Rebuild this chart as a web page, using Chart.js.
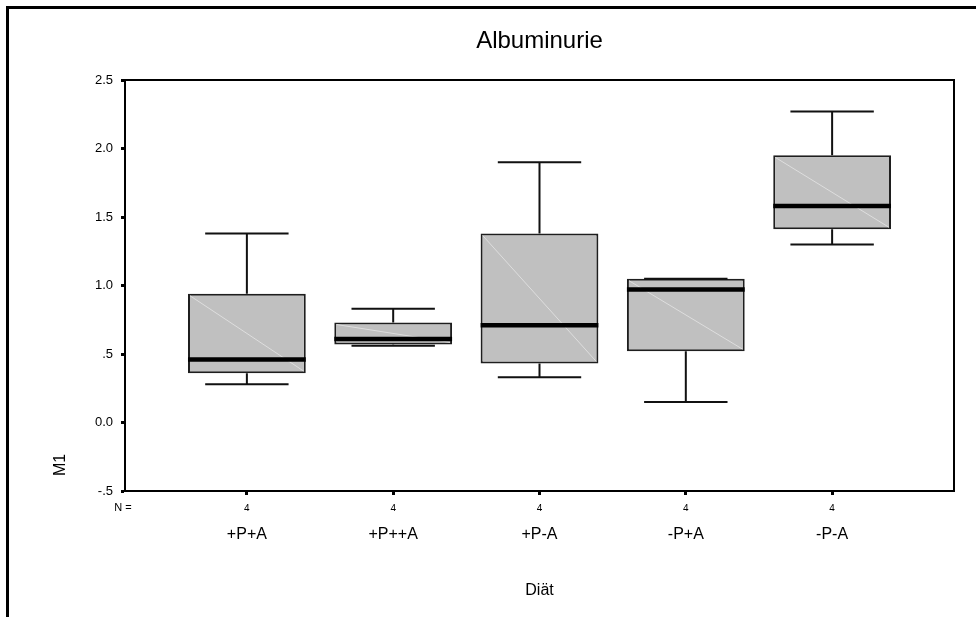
<!DOCTYPE html>
<html>
<head>
<meta charset="utf-8">
<title>Albuminurie</title>
<script src="https://cdn.jsdelivr.net/npm/chart.js@4.4.1/dist/chart.umd.min.js"></script>
<style>
  body { margin: 0; background: #fff; }
  canvas { display: block; }
</style>
</head>
<body>
<canvas id="chart" width="976" height="617"></canvas>
<script>
// box plot values
const categories = ['+P+A', '+P++A', '+P-A', '-P+A', '-P-A'];
const nCounts = [4, 4, 4, 4, 4];
const whiskerLow = [0.28, 0.56, 0.33, 0.15, 1.30];
const quartile1 = [0.36, 0.57, 0.43, 0.52, 1.41];
const medians = [0.46, 0.61, 0.71, 0.97, 1.58];
const quartile3 = [0.94, 0.73, 1.38, 1.05, 1.95];
const whiskerHigh = [1.38, 0.83, 1.90, 1.05, 2.27];
const yTicks = [-0.5, 0, 0.5, 1, 1.5, 2, 2.5];

const FONT = "'Liberation Sans', Arial, sans-serif";
const capHalf = 0.285; // half width of the whisker caps, in category units

// SPSS style: ".5", "-.5", "0.0"
function spssLabel(v) {
    if (v === 0) return '0.0';
    return v.toFixed(1).replace(/^(-?)0\./, '$1.');
}

const boxPlotExtras = {
    id: 'boxPlotExtras',
    beforeDraw(chart) {
        const ctx = chart.ctx;
        ctx.save();
        ctx.fillStyle = '#fff';
        ctx.fillRect(0, 0, chart.width, chart.height);
        // outer frame, only top and left are visible
        ctx.strokeStyle = '#000';
        ctx.lineWidth = 3;
        ctx.beginPath();
        ctx.moveTo(7.5, chart.height);
        ctx.lineTo(7.5, 7.5);
        ctx.lineTo(chart.width, 7.5);
        ctx.stroke();
        ctx.restore();
    },
    afterDatasetsDraw(chart) {
        const ctx = chart.ctx;
        const xs = chart.scales.x;
        const ys = chart.scales.y;
        const meta = chart.getDatasetMeta(0);
        ctx.save();
        meta.data.forEach((bar, i) => {
            const { x: cx, width } = bar.getProps(['x', 'width'], true);
            const left = cx - width / 2;
            const right = cx + width / 2;
            const top = ys.getPixelForValue(quartile3[i]);
            const bottom = ys.getPixelForValue(quartile1[i]);

            // faint diagonal inside the box
            ctx.strokeStyle = '#dedede';
            ctx.lineWidth = 1;
            ctx.beginPath();
            ctx.moveTo(left + 2, top + 2);
            ctx.lineTo(right - 2, bottom - 2);
            ctx.stroke();

            // whiskers
            const capL = xs.getPixelForValue(i + 1 - capHalf);
            const capR = xs.getPixelForValue(i + 1 + capHalf);
            const hi = ys.getPixelForValue(whiskerHigh[i]);
            const lo = ys.getPixelForValue(whiskerLow[i]);
            ctx.strokeStyle = '#111';
            ctx.lineWidth = 2;
            ctx.beginPath();
            ctx.moveTo(cx, top);
            ctx.lineTo(cx, hi);
            ctx.moveTo(capL, hi);
            ctx.lineTo(capR, hi);
            ctx.moveTo(cx, bottom);
            ctx.lineTo(cx, lo);
            ctx.moveTo(capL, lo);
            ctx.lineTo(capR, lo);
            ctx.stroke();

            // median
            const med = ys.getPixelForValue(medians[i]);
            ctx.strokeStyle = '#000';
            ctx.lineWidth = 4.5;
            ctx.beginPath();
            ctx.moveTo(left, med);
            ctx.lineTo(right, med);
            ctx.stroke();
        });
        ctx.restore();
    },
    afterDraw(chart) {
        const ctx = chart.ctx;
        const a = chart.chartArea;
        ctx.save();
        ctx.strokeStyle = '#000';
        ctx.lineWidth = 2;
        ctx.strokeRect(a.left, a.top, a.right - a.left, a.bottom - a.top);
        ctx.fillStyle = '#000';
        ctx.font = '11px ' + FONT;
        ctx.textAlign = 'center';
        ctx.textBaseline = 'middle';
        ctx.fillText('N =', a.left - 2, a.bottom + 17);
        // y axis title, low on the axis like SPSS puts it
        ctx.font = '16px ' + FONT;
        ctx.translate(61, 465);
        ctx.rotate(-Math.PI / 2);
        ctx.fillText('M1', 0, 0);
        ctx.restore();
    }
};

new Chart(document.getElementById('chart'), {
    type: 'bar',
    data: {
        datasets: [{
            data: categories.map((c, i) => ({ x: i + 1, y: [quartile1[i], quartile3[i]] })),
            backgroundColor: '#c0c0c0',
            borderColor: '#1e1e1e',
            borderWidth: 2,
            borderSkipped: false,
            barPercentage: 1,
            categoryPercentage: 0.805,
            xAxisID: 'x',
            yAxisID: 'y'
        }]
    },
    options: {
        responsive: false,
        animation: false,
        devicePixelRatio: 1,
        layout: { padding: { top: 10, left: 40, right: 22, bottom: 8 } },
        plugins: {
            legend: { display: false },
            tooltip: { enabled: false },
            title: {
                display: true,
                text: 'Albuminurie',
                fullSize: false,
                color: '#000',
                font: { family: FONT, size: 24, weight: 'normal' },
                padding: { top: 17, bottom: 24.2 }
            }
        },
        scales: {
            y: {
                type: 'linear',
                min: -0.5,
                max: 2.5,
                afterBuildTicks: (scale) => { scale.ticks = yTicks.map(v => ({ value: v })); },
                afterFit: (scale) => { scale.width = 85; },
                ticks: {
                    color: '#000',
                    padding: 8,
                    font: { family: FONT, size: 13 },
                    callback: (v) => spssLabel(v)
                },
                grid: { drawOnChartArea: false, tickLength: 4, tickWidth: 3, tickColor: '#000' },
                border: { display: true, color: '#000', width: 2 }
            },
            x: {
                type: 'linear',
                position: 'bottom',
                weight: 0,
                offset: false,
                min: 0.167,
                max: 5.833,
                afterBuildTicks: (scale) => { scale.ticks = categories.map((c, i) => ({ value: i + 1 })); },
                afterFit: (scale) => { scale.height = 20; },
                ticks: {
                    color: '#000',
                    padding: 8,
                    autoSkip: false,
                    maxRotation: 0,
                    font: { family: FONT, size: 10 },
                    callback: (v, i) => String(nCounts[i])
                },
                grid: { offset: false, drawOnChartArea: false, tickLength: 4, tickWidth: 3, tickColor: '#000' },
                border: { display: true, color: '#000', width: 2 }
            },
            x2: {
                type: 'linear',
                position: 'bottom',
                weight: 1,
                offset: false,
                min: 0.167,
                max: 5.833,
                afterBuildTicks: (scale) => { scale.ticks = categories.map((c, i) => ({ value: i + 1 })); },
                afterFit: (scale) => { scale.height = 98; },
                ticks: {
                    color: '#000',
                    padding: 6,
                    autoSkip: false,
                    maxRotation: 0,
                    font: { family: FONT, size: 16 },
                    callback: (v, i) => categories[i]
                },
                grid: { display: false, offset: false },
                border: { display: false },
                title: {
                    display: true,
                    text: 'Diät',
                    color: '#000',
                    font: { family: FONT, size: 16 },
                    padding: { bottom: 9 }
                }
            }
        }
    },
    plugins: [boxPlotExtras]
});
</script>
</body>
</html>
